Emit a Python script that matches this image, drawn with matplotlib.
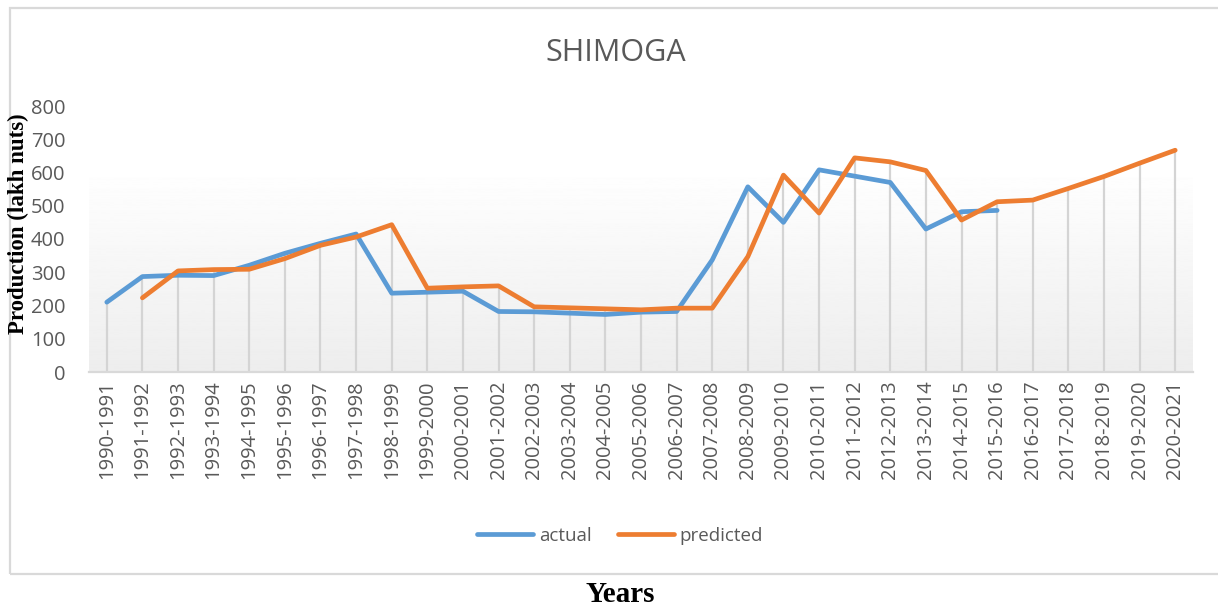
import numpy as np
import matplotlib.pyplot as plt
from matplotlib.patches import Rectangle

years = ["1990-1991", "1991-1992", "1992-1993", "1993-1994", "1994-1995",
         "1995-1996", "1996-1997", "1997-1998", "1998-1999", "1999-2000",
         "2000-2001", "2001-2002", "2002-2003", "2003-2004", "2004-2005",
         "2005-2006", "2006-2007", "2007-2008", "2008-2009", "2009-2010",
         "2010-2011", "2011-2012", "2012-2013", "2013-2014", "2014-2015",
         "2015-2016", "2016-2017", "2017-2018", "2018-2019", "2019-2020",
         "2020-2021"]
nan = np.nan
actual = [210, 287, 291, 290, 321, 357, 387, 415, 237, 240,
          243, 182, 181, 177, 173, 180, 182, 337, 557, 450,
          608, 589, 570, 430, 482, 486, nan, nan, nan, nan,
          nan]
predicted = [nan, 223, 304, 308, 309, 341, 381, 406, 443, 252,
             256, 259, 196, 193, 190, 187, 192, 192, 347, 592,
             478, 644, 632, 606, 457, 512, 517, 552, 588, 628,
             667]

BLUE = "#5b9bd5"
ORANGE = "#ed7d31"
GREY_TXT = "#595959"

x = np.arange(len(years))
actual = np.array(actual, dtype=float)
predicted = np.array(predicted, dtype=float)

fig = plt.figure(figsize=(12.18, 6.11), dpi=100)
ax = fig.add_axes([89 / 1218, 1 - 372 / 611, (1193 - 89) / 1218, (372 - 106) / 611])

# chart border like the excel chart box
fig.patches.append(Rectangle((10 / 1218, 1 - 574 / 611), 1.2, (574 - 8) / 611,
                             transform=fig.transFigure, fill=False,
                             edgecolor="#d9d9d9", linewidth=1.6))

# soft gradient in the lower part of the plot area
grad = np.linspace(0.93, 1.0, 256).reshape(-1, 1)
ax.imshow(grad, cmap="gray", vmin=0, vmax=1, aspect="auto", origin="lower",
          extent=(0, 1, 0, 0.775), transform=ax.transAxes, zorder=0)

# drop lines
top = np.fmax(actual, predicted)
ax.vlines(x, 0, top, color="#d4d4d4", linewidth=1.6, zorder=1)

ax.plot(x, actual, color=BLUE, linewidth=3.4, label="actual", zorder=3,
        solid_joinstyle="round", solid_capstyle="round")
ax.plot(x, predicted, color=ORANGE, linewidth=3.4, label="predicted", zorder=3,
        solid_joinstyle="round", solid_capstyle="round")

ax.set_xlim(-0.5, len(years) - 0.5)
ax.set_ylim(0, 800)
ax.set_yticks(range(0, 801, 100))
ax.set_xticks(x)
ax.set_xticklabels(years, rotation=90, fontsize=14.5, color=GREY_TXT, family="Open Sans")
for lab in ax.get_yticklabels():
    lab.set_fontsize(14.5)
    lab.set_color(GREY_TXT)
    lab.set_family("Open Sans")
ax.tick_params(axis="both", length=0)
ax.tick_params(axis="y", pad=17)
ax.tick_params(axis="x", pad=6)

for s in ["top", "right", "left"]:
    ax.spines[s].set_visible(False)
ax.spines["bottom"].set_color("#d9d9d9")
ax.spines["bottom"].set_linewidth(1.6)
ax.spines["bottom"].set_zorder(2)
ax.patch.set_alpha(0)

fig.text(616 / 1218, 1 - 53 / 611, "SHIMOGA", ha="center", va="center",
         fontsize=22, color=GREY_TXT, family="Open Sans")
fig.text(18 / 1218, 1 - 224 / 611, "Production (lakh nuts)", rotation=90,
         ha="center", va="center", fontsize=16.5, fontweight="bold",
         family="Liberation Serif")
fig.text(620 / 1218, 1 - 595 / 611, "Years", ha="center", va="center",
         fontsize=21, fontweight="bold", family="Liberation Serif")

fig.legend(loc="center", bbox_to_anchor=(620 / 1218, 1 - 536 / 611), ncol=2,
           frameon=False, handlelength=3.0, columnspacing=1.4, handletextpad=0.3,
           prop={"family": "Open Sans", "size": 13.5}, labelcolor=GREY_TXT)

fig.savefig("out.png", dpi=100, facecolor="white")
